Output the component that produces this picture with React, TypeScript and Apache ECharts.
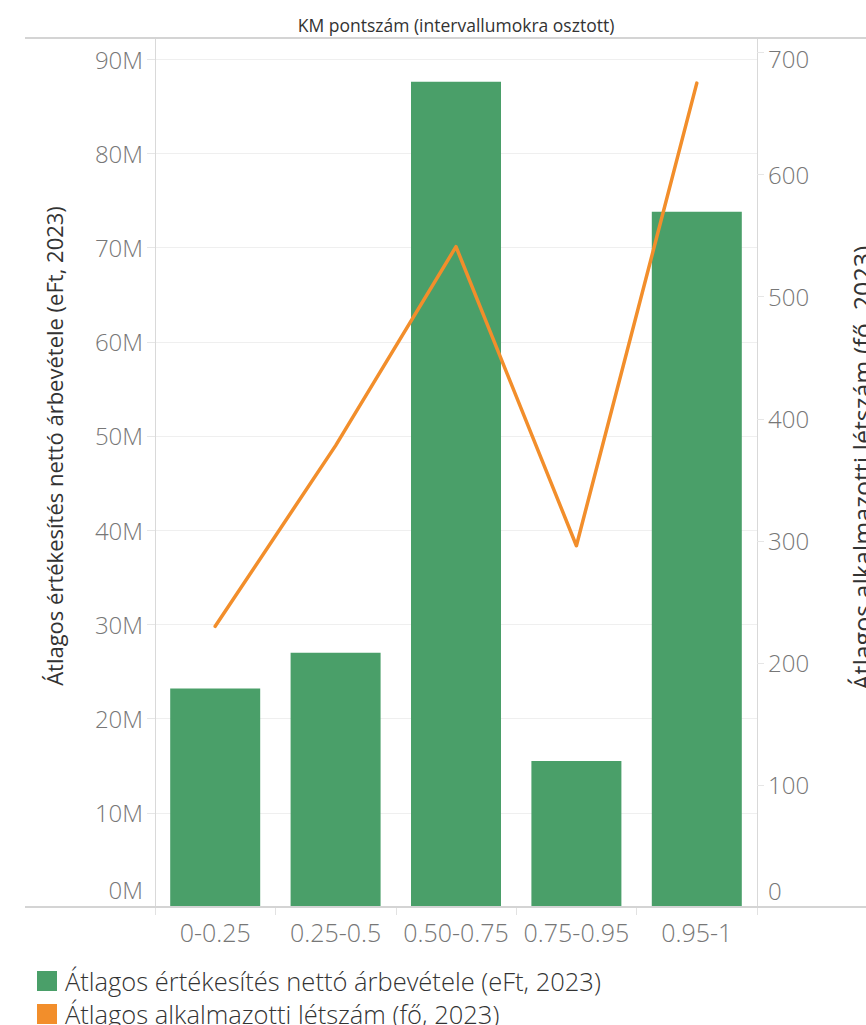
import React, { useEffect, useRef } from "react";
import * as echarts from "echarts";

const categories = ["0-0.25", "0.25-0.5", "0.50-0.75", "0.75-0.95", "0.95-1"];
const revenue = [23.2e6, 27.0e6, 87.6e6, 15.5e6, 73.8e6];
const employees = [230, 378, 541, 296, 675];
const revenueName = "Átlagos értékesítés nettó árbevétele (eFt, 2023)";
const employeesName = "Átlagos alkalmazotti létszám (fő, 2023)";
const chartTitle = "KM pontszám (intervallumokra osztott)";

const FONT = "Open Sans";
const GREEN = "#4a9f69";
const ORANGE = "#f28e2b";

export default function App() {
  const ref = useRef<HTMLDivElement>(null);
  useEffect(() => {
    if (!ref.current) return;
    const chart = echarts.init(ref.current, undefined, { renderer: "svg" });
    const tickLabel = { fontFamily: FONT, fontSize: 24, fontWeight: 300, color: "#777777" };
    chart.setOption({
      animation: false,
      backgroundColor: "#ffffff",
      textStyle: { fontFamily: FONT },
      grid: { left: 155, right: 109, top: 38, bottom: 118, containLabel: false },
      legend: {
        orient: "vertical",
        left: 32,
        top: 963,
        height: 120,
        icon: "rect",
        itemWidth: 20,
        itemHeight: 20,
        itemGap: 7,
        selectedMode: false,
        textStyle: { fontFamily: FONT, fontSize: 25.5, lineHeight: 26, fontWeight: 300, color: "#333", padding: [0, 0, 0, 3] },
        data: [revenueName, employeesName],
      },
      xAxis: {
        type: "category",
        data: categories,
        axisLine: { show: true, lineStyle: { color: "#d4d4d4", width: 2 } },
        axisTick: { show: true, length: 8, lineStyle: { color: "#e2e2e2" } },
        axisLabel: { ...tickLabel, fontSize: 25, margin: 12, interval: 0 },
      },
      yAxis: [
        {
          type: "value",
          min: 0,
          max: 92.25e6,
          interval: 10e6,
          position: "left",
          axisLine: { show: true, lineStyle: { color: "#d9d9d9", width: 1 } },
          axisTick: { show: true, length: 8, lineStyle: { color: "#e6e6e6" } },
          splitLine: { show: true, lineStyle: { color: "#efefef", width: 1 } },
          axisLabel: {
            ...tickLabel,
            margin: 12,
            formatter: (v: number) => {
              const k = v / 1e7;
              if (Math.abs(k - Math.round(k)) > 1e-6) return "";
              const s = Math.round(k) * 10 + "M";
              return v === 0 ? "{z|" + s + "}" : s;
            },
            rich: { z: { ...tickLabel, padding: [0, 0, 36, 0] } },
          },
        },
        {
          type: "value",
          min: 0,
          max: 712,
          interval: 100,
          position: "right",
          axisLine: { show: true, lineStyle: { color: "#d9d9d9", width: 1 } },
          axisTick: { show: true, length: 7, lineStyle: { color: "#e6e6e6" } },
          splitLine: { show: false },
          axisLabel: {
            ...tickLabel,
            margin: 11,
            formatter: (v: number) => {
              if (Math.abs(v / 100 - Math.round(v / 100)) > 1e-6) return "";
              const s = String(Math.round(v));
              if (v === 0) return "{z|" + s + "}";
              if (Math.round(v) === 700) return "{t|" + s + "}";
              return s;
            },
            rich: {
              z: { ...tickLabel, padding: [0, 0, 34, 0] },
              t: { ...tickLabel, padding: [12, 0, 0, 0] },
            },
          },
        },
      ],
      series: [
        {
          name: revenueName,
          type: "bar",
          yAxisIndex: 0,
          data: revenue,
          barWidth: 90,
          itemStyle: { color: GREEN },
          z: 2,
        },
        {
          name: employeesName,
          type: "line",
          yAxisIndex: 1,
          data: employees,
          symbol: "none",
          itemStyle: { color: ORANGE },
          lineStyle: { color: ORANGE, width: 3.5, cap: "round", join: "round" },
          z: 3,
        },
      ],
      graphic: [
        {
          type: "text",
          x: 456,
          y: 25,
          style: { text: chartTitle, fontFamily: FONT, fontSize: 17.5, fill: "#333", align: "center", verticalAlign: "middle" },
        },
        {
          type: "line",
          shape: { x1: 25, y1: 38, x2: 866, y2: 38 },
          style: { stroke: "#d4d4d4", lineWidth: 2 },
          z: 10,
        },
        {
          type: "line",
          shape: { x1: 25, y1: 907, x2: 866, y2: 907 },
          style: { stroke: "#d4d4d4", lineWidth: 2 },
          z: 10,
        },
        {
          type: "text",
          x: 54,
          y: 446,
          rotation: Math.PI / 2,
          style: { text: revenueName, fontFamily: FONT, fontSize: 22, fill: "#333", align: "center", verticalAlign: "middle" },
        },
        {
          type: "text",
          x: 862,
          y: 468,
          rotation: Math.PI / 2,
          style: { text: employeesName, fontFamily: FONT, fontSize: 25, fill: "#333", align: "center", verticalAlign: "middle" },
        },
      ],
    });
    return () => chart.dispose();
  }, []);
  return <div ref={ref} style={{ position: "absolute", left: 0, top: 0, width: 866, height: 1025 }} />;
}
